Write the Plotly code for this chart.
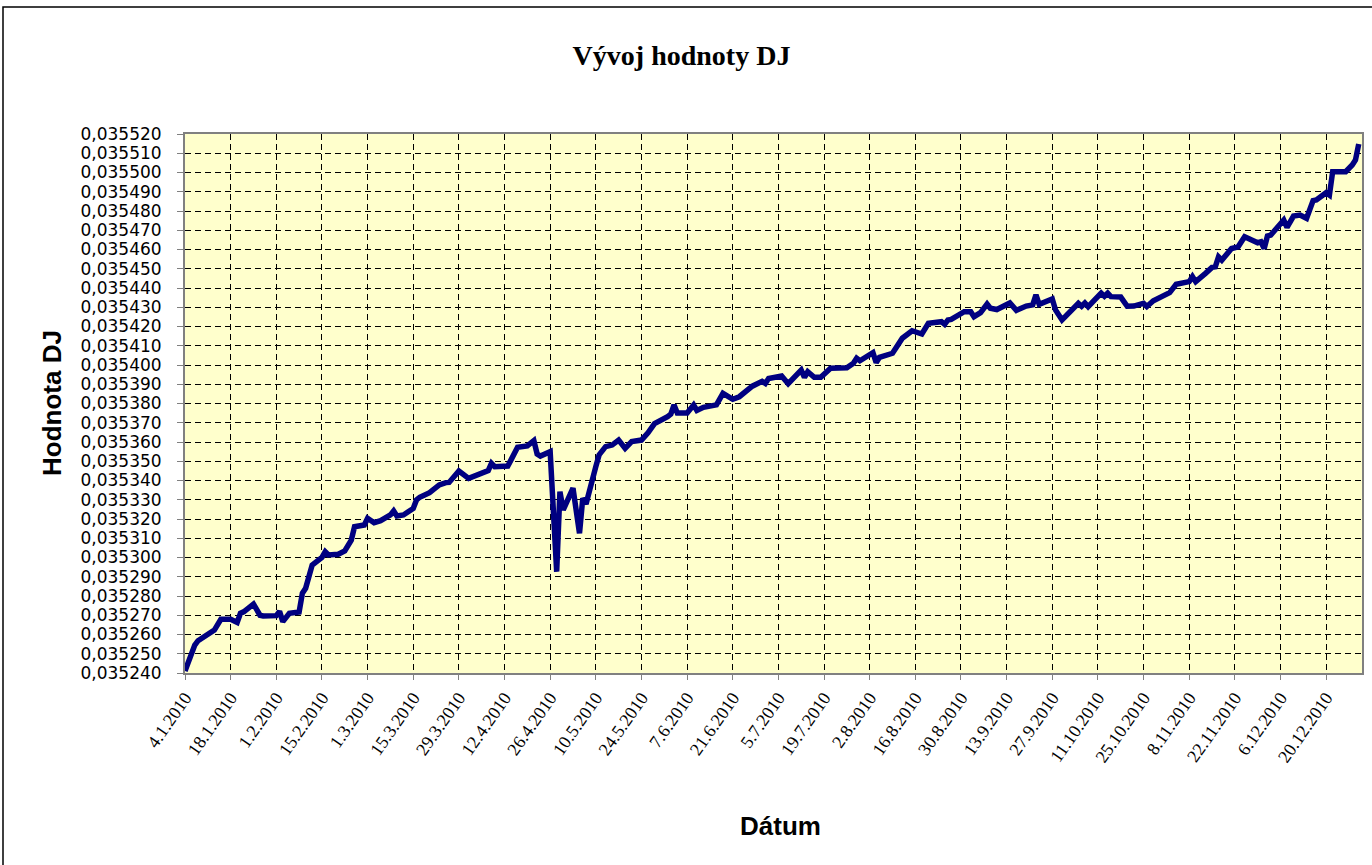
import plotly.graph_objects as go

# ---- data ----
dates = [
    "2010-01-04", "2010-01-07", "2010-01-08", "2010-01-12", "2010-01-13", "2010-01-15", "2010-01-18",
    "2010-01-20", "2010-01-21", "2010-01-22", "2010-01-25", "2010-01-27", "2010-01-28",
    "2010-02-01", "2010-02-02", "2010-02-03", "2010-02-05", "2010-02-08", "2010-02-09", "2010-02-10",
    "2010-02-12", "2010-02-15", "2010-02-16", "2010-02-17", "2010-02-20", "2010-02-22", "2010-02-24",
    "2010-02-25", "2010-02-28",
    "2010-03-01", "2010-03-03", "2010-03-05", "2010-03-08", "2010-03-09", "2010-03-10", "2010-03-12",
    "2010-03-15", "2010-03-16", "2010-03-17", "2010-03-20", "2010-03-23", "2010-03-25", "2010-03-26",
    "2010-03-29", "2010-03-30",
    "2010-04-01", "2010-04-07", "2010-04-08", "2010-04-09", "2010-04-13", "2010-04-14", "2010-04-16",
    "2010-04-19", "2010-04-21", "2010-04-22", "2010-04-23", "2010-04-26", "2010-04-28", "2010-04-29",
    "2010-04-30",
    "2010-05-03", "2010-05-05", "2010-05-06", "2010-05-07", "2010-05-10", "2010-05-11", "2010-05-13",
    "2010-05-15", "2010-05-17", "2010-05-19", "2010-05-21", "2010-05-24", "2010-05-26", "2010-05-28",
    "2010-06-01", "2010-06-02", "2010-06-03", "2010-06-04", "2010-06-07", "2010-06-09", "2010-06-10",
    "2010-06-12", "2010-06-16", "2010-06-18", "2010-06-21", "2010-06-23", "2010-06-27", "2010-06-30",
    "2010-07-01", "2010-07-02", "2010-07-06", "2010-07-08", "2010-07-12", "2010-07-13", "2010-07-14",
    "2010-07-16", "2010-07-18", "2010-07-21", "2010-07-26", "2010-07-28", "2010-07-29", "2010-07-30",
    "2010-08-03", "2010-08-04", "2010-08-05", "2010-08-09", "2010-08-10", "2010-08-12", "2010-08-15",
    "2010-08-18", "2010-08-20", "2010-08-24", "2010-08-25", "2010-08-26", "2010-08-27", "2010-08-31",
    "2010-09-02", "2010-09-03", "2010-09-05", "2010-09-07", "2010-09-08", "2010-09-10", "2010-09-14",
    "2010-09-16", "2010-09-19", "2010-09-21", "2010-09-22", "2010-09-23", "2010-09-27", "2010-09-28",
    "2010-09-30",
    "2010-10-05", "2010-10-06", "2010-10-07", "2010-10-08", "2010-10-12", "2010-10-13", "2010-10-14",
    "2010-10-15", "2010-10-18", "2010-10-20", "2010-10-22", "2010-10-25", "2010-10-26", "2010-10-28",
    "2010-11-02", "2010-11-04", "2010-11-08", "2010-11-09", "2010-11-10", "2010-11-13", "2010-11-15",
    "2010-11-16", "2010-11-17", "2010-11-18", "2010-11-21", "2010-11-23", "2010-11-25", "2010-11-29",
    "2010-11-30",
    "2010-12-01", "2010-12-02", "2010-12-03", "2010-12-07", "2010-12-08", "2010-12-10", "2010-12-12",
    "2010-12-14", "2010-12-16", "2010-12-17", "2010-12-20", "2010-12-21", "2010-12-22", "2010-12-26",
    "2010-12-28", "2010-12-29", "2010-12-30",
]

dj_values = [
    0.0352410, 0.0352545, 0.0352568, 0.0352606, 0.0352623, 0.0352679, 0.0352679,
    0.0352663, 0.0352710, 0.0352718, 0.0352758, 0.0352700, 0.0352696,
    0.0352698, 0.0352720, 0.0352667, 0.0352710, 0.0352717, 0.0352814, 0.0352840,
    0.0352961, 0.0353001, 0.0353030, 0.0353013, 0.0353017, 0.0353034, 0.0353090,
    0.0353160, 0.0353169,
    0.0353204, 0.0353181, 0.0353191, 0.0353221, 0.0353242, 0.0353216, 0.0353221,
    0.0353255, 0.0353299, 0.0353313, 0.0353337, 0.0353377, 0.0353389, 0.0353390,
    0.0353449, 0.0353434,
    0.0353411, 0.0353451, 0.0353489, 0.0353472, 0.0353475, 0.0353507, 0.0353573,
    0.0353580, 0.0353607, 0.0353538, 0.0353527, 0.0353550, 0.0352926, 0.0353342,
    0.0353247,
    0.0353360, 0.0353126, 0.0353308, 0.0353278, 0.0353472, 0.0353533, 0.0353576,
    0.0353584, 0.0353610, 0.0353567, 0.0353602, 0.0353610, 0.0353648, 0.0353695,
    0.0353732, 0.0353745, 0.0353792, 0.0353751, 0.0353751, 0.0353792, 0.0353764,
    0.0353780, 0.0353793, 0.0353853, 0.0353822, 0.0353835, 0.0353890, 0.0353915,
    0.0353904, 0.0353930, 0.0353943, 0.0353903, 0.0353974, 0.0353936, 0.0353965,
    0.0353936, 0.0353936, 0.0353983, 0.0353986, 0.0354009, 0.0354035, 0.0354022,
    0.0354064, 0.0354012, 0.0354040, 0.0354061, 0.0354087, 0.0354139, 0.0354178,
    0.0354161, 0.0354217, 0.0354225, 0.0354211, 0.0354234, 0.0354237, 0.0354277,
    0.0354277, 0.0354251, 0.0354272, 0.0354317, 0.0354295, 0.0354288, 0.0354322,
    0.0354284, 0.0354306, 0.0354312, 0.0354364, 0.0354315, 0.0354343, 0.0354286,
    0.0354234,
    0.0354320, 0.0354305, 0.0354322, 0.0354303, 0.0354373, 0.0354357, 0.0354373,
    0.0354355, 0.0354353, 0.0354305, 0.0354306, 0.0354320, 0.0354304, 0.0354334,
    0.0354376, 0.0354419, 0.0354433, 0.0354459, 0.0354433, 0.0354476, 0.0354507,
    0.0354510, 0.0354562, 0.0354545, 0.0354605, 0.0354614, 0.0354666, 0.0354635,
    0.0354640,
    0.0354605, 0.0354670, 0.0354675, 0.0354753, 0.0354715, 0.0354774, 0.0354779,
    0.0354762, 0.0354854, 0.0354857, 0.0354895, 0.0354883, 0.0355004, 0.0355004,
    0.0355039, 0.0355065, 0.0355148,
]

title_text = "Vývoj hodnoty DJ"
y_title = "Hodnota DJ"
x_title = "Dátum"
x_range = ["2010-01-04", "2010-12-31"]
y_range = [0.035240, 0.035520]
y_step = 0.00001
x_step_days = 14

# ---- layout geometry (pixels) ----
W, H = 1372, 865
L, R, T, B = 185, 10, 134, 192
pw, ph = W - L - R, H - T - B


def px_x(x):
    return (x - L) / pw


def px_y(y):
    return (H - B - y) / ph


fig = go.Figure()
fig.add_trace(go.Scatter(
    x=dates, y=dj_values, mode="lines",
    line=dict(color="#000080", width=5.5),
    hoverinfo="x+y", showlegend=False,
))

grid_common = dict(
    showgrid=True, gridcolor="#000000", gridwidth=1, griddash="6px,4px",
    showline=True, linecolor="#808080", linewidth=2, mirror=True,
    ticks="outside", tickcolor="#808080", tickwidth=1,
    zeroline=False,
)

fig.update_xaxes(
    type="date", range=x_range, tick0=x_range[0], dtick=x_step_days * 86400000,
    tickformat="%-d.%-m.%Y", tickangle=-55, ticklen=5,
    tickfont=dict(family="Liberation Serif, Times New Roman, serif", size=18, color="#000000"),
    ticklabelstandoff=0,
    **grid_common,
)
fig.update_yaxes(
    range=y_range, tick0=y_range[0], dtick=y_step, tickformat=".6f", ticklen=6,
    tickfont=dict(family="DejaVu Sans, Verdana, sans-serif", size=17, color="#000000"),
    ticklabelstandoff=12,
    **grid_common,
)

axis_title_font = dict(family="Liberation Sans, Arial, sans-serif", size=26, color="#000000")
fig.update_layout(
    width=W, height=H,
    margin=dict(l=L, r=R, t=T, b=B, autoexpand=False),
    paper_bgcolor="#FFFFFF", plot_bgcolor="#FFFFCC",
    separators=", ",
    title=dict(text=f"<b>{title_text}</b>", x=(573 + 790) / 2 / W, xref="container", xanchor="center",
               y=1 - 55 / H, yref="container", yanchor="middle",
               font=dict(family="Liberation Serif, Times New Roman, serif", size=28, color="#000000")),
    annotations=[
        dict(text=f"<b>{x_title}</b>", xref="paper", yref="paper", x=px_x(780), y=px_y(826),
             xanchor="center", yanchor="middle", showarrow=False, font=axis_title_font),
        dict(text=f"<b>{y_title}</b>", xref="paper", yref="paper", x=px_x(52), y=px_y(403),
             xanchor="center", yanchor="middle", textangle=-90, showarrow=False, font=axis_title_font),
    ],
    shapes=[dict(type="rect", xref="paper", yref="paper",
                 x0=px_x(3), x1=px_x(1376), y0=px_y(869), y1=px_y(7),
                 line=dict(color="#000000", width=1.5), fillcolor="rgba(0,0,0,0)", layer="above")],
)

fig.write_html("out.html", config={"displayModeBar": False},
               post_script="document.body.style.margin='0';")
